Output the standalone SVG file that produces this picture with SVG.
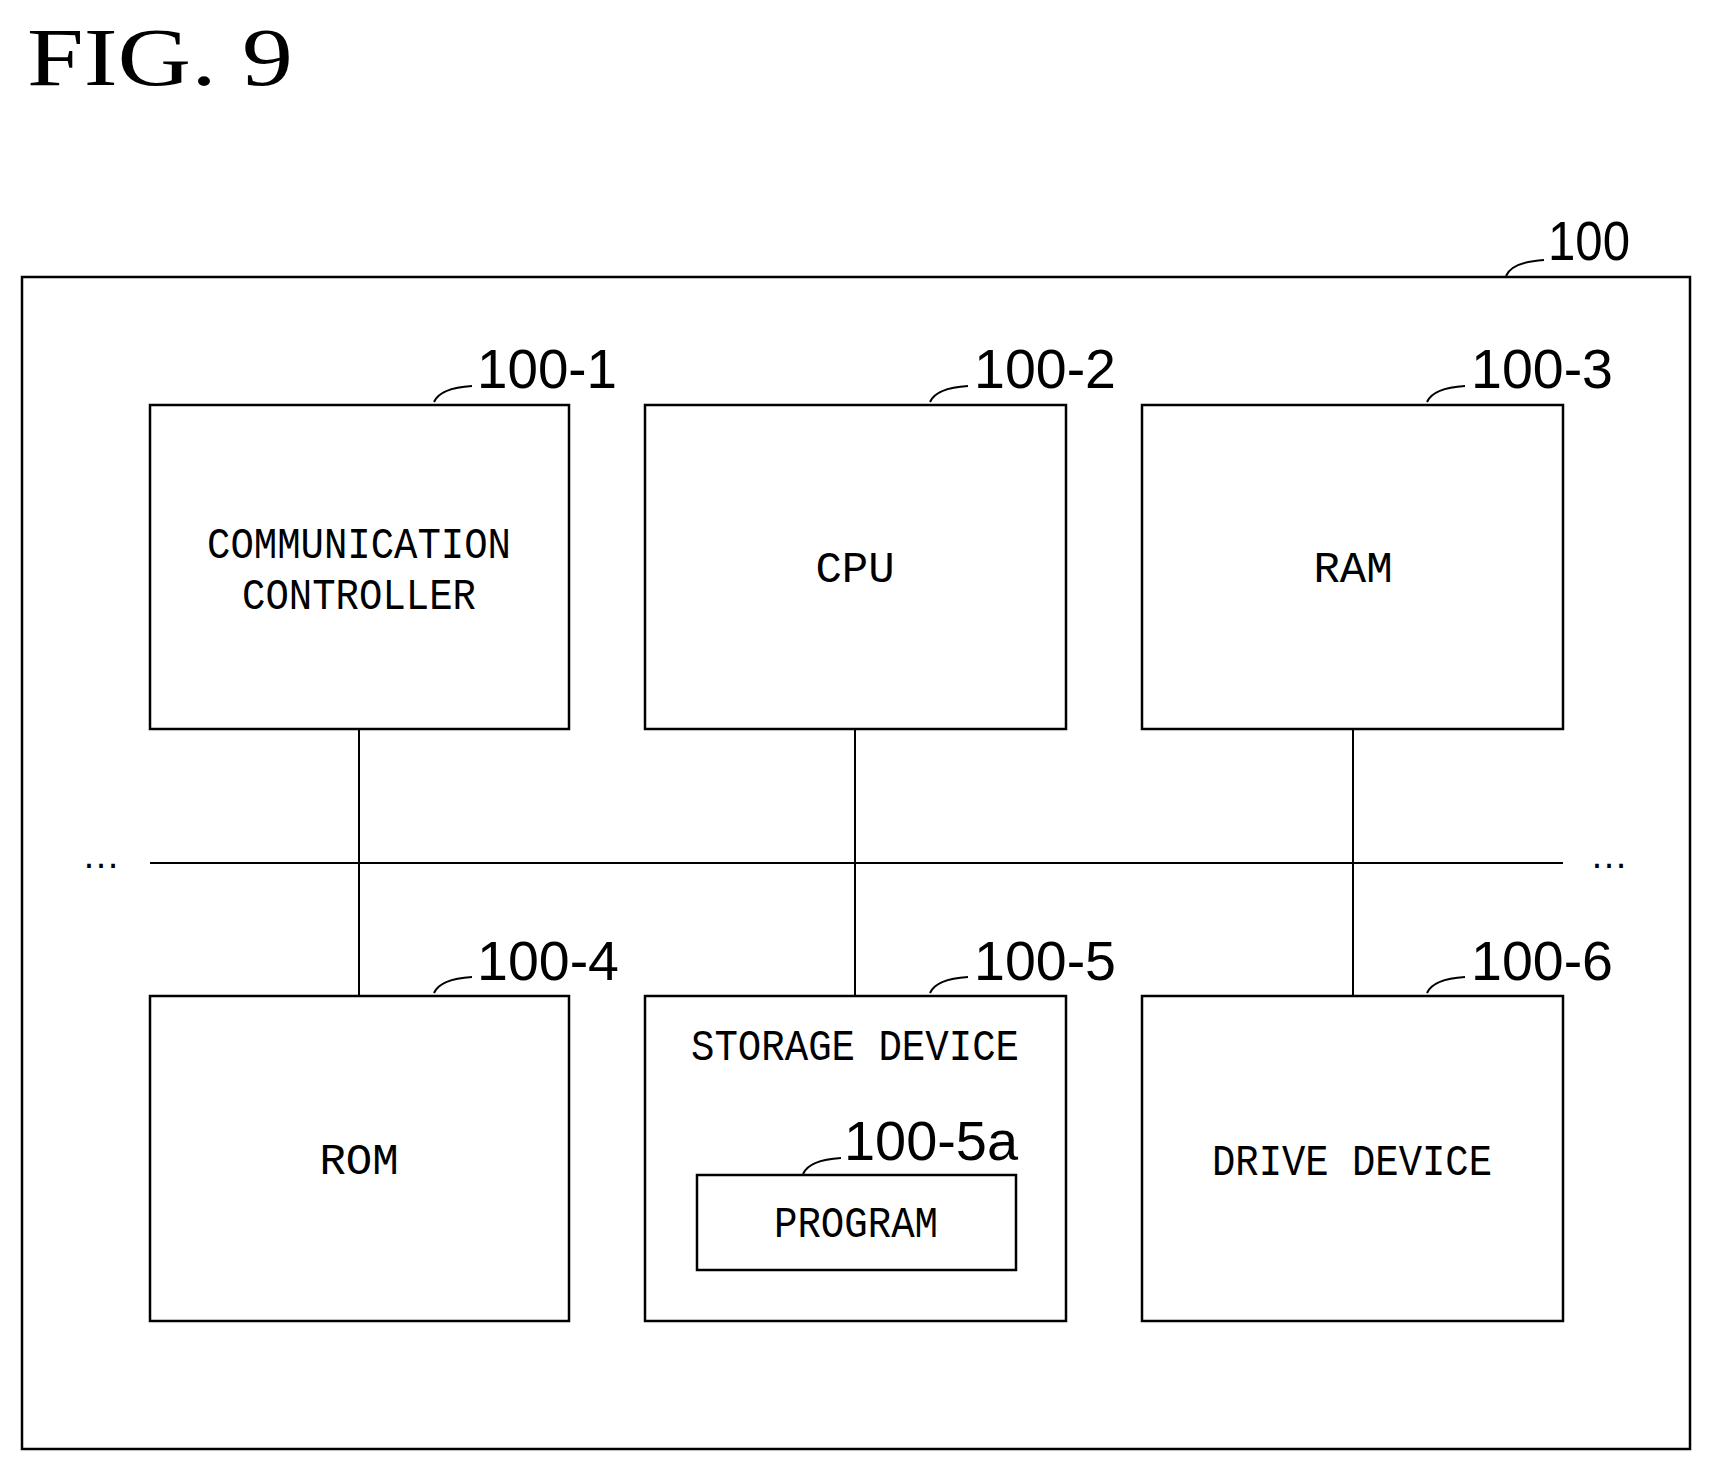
<svg xmlns="http://www.w3.org/2000/svg" width="1712" height="1472" viewBox="0 0 1712 1472">
<style>
rect{fill:none;stroke:#000;stroke-width:2.5}
.c line,.c path{stroke:#000;stroke-width:2;fill:none}
.t{font-family:"Liberation Mono",monospace;font-size:44px;text-anchor:middle}
.n{font-family:"Liberation Sans",sans-serif;font-size:56px}
.lead{stroke:#000;stroke-width:2;fill:none}
.d{font-family:"Liberation Sans",sans-serif;font-size:40px}
</style>
<rect width="1712" height="1472" fill="#fff" stroke="none" style="fill:#fff;stroke:none"/>
<text x="27" y="85" font-family="Liberation Serif,serif" font-size="82" textLength="266" lengthAdjust="spacingAndGlyphs">FIG. 9</text>
<g id="n100"><rect x="22" y="277" width="1668" height="1172"/><path class="lead" d="M1506 276 q6 -14 38 -16"/><text class="n" x="1548" y="260" textLength="82" lengthAdjust="spacingAndGlyphs">100</text></g>
<g class="c" id="connectors">
<line x1="150" y1="863" x2="1563" y2="863"/>
<line x1="359" y1="729" x2="359" y2="996"/>
<line x1="855" y1="729" x2="855" y2="996"/>
<line x1="1353" y1="729" x2="1353" y2="996"/>
<text class="d" x="82" y="868" textLength="38" lengthAdjust="spacingAndGlyphs">…</text>
<text class="d" x="1590" y="868" textLength="38" lengthAdjust="spacingAndGlyphs">…</text>
</g>
<g id="n1"><rect x="150" y="405" width="419" height="324"/><path class="lead" d="M434 402 q6 -14 38 -16"/><text class="n" x="477" y="388" textLength="140" lengthAdjust="spacingAndGlyphs">100-1</text><text class="t" x="359" y="558" textLength="304" lengthAdjust="spacingAndGlyphs">COMMUNICATION</text><text class="t" x="359" y="609" textLength="234" lengthAdjust="spacingAndGlyphs">CONTROLLER</text></g>
<g id="n2"><rect x="645" y="405" width="421" height="324"/><path class="lead" d="M930 402 q6 -14 38 -16"/><text class="n" x="974" y="388" textLength="142" lengthAdjust="spacingAndGlyphs">100-2</text><text class="t" x="855" y="582">CPU</text></g>
<g id="n3"><rect x="1142" y="405" width="421" height="324"/><path class="lead" d="M1427 402 q6 -14 38 -16"/><text class="n" x="1471" y="388" textLength="142" lengthAdjust="spacingAndGlyphs">100-3</text><text class="t" x="1353" y="582">RAM</text></g>
<g id="n4"><rect x="150" y="996" width="419" height="325"/><path class="lead" d="M434 993 q6 -14 38 -16"/><text class="n" x="477" y="980" textLength="142" lengthAdjust="spacingAndGlyphs">100-4</text><text class="t" x="359" y="1174">ROM</text></g>
<g id="n5"><rect x="645" y="996" width="421" height="325"/><path class="lead" d="M930 993 q6 -14 38 -16"/><text class="n" x="974" y="980" textLength="142" lengthAdjust="spacingAndGlyphs">100-5</text><text class="t" x="855" y="1060" textLength="328" lengthAdjust="spacingAndGlyphs">STORAGE DEVICE</text></g>
<g id="n5a"><rect x="697" y="1175" width="319" height="95"/><path class="lead" d="M803 1174 q6 -14 38 -16"/><text class="n" x="844" y="1160" textLength="174" lengthAdjust="spacingAndGlyphs">100-5a</text><text class="t" x="856" y="1237" textLength="164" lengthAdjust="spacingAndGlyphs">PROGRAM</text></g>
<g id="n6"><rect x="1142" y="996" width="421" height="325"/><path class="lead" d="M1427 993 q6 -14 38 -16"/><text class="n" x="1471" y="980" textLength="142" lengthAdjust="spacingAndGlyphs">100-6</text><text class="t" x="1352" y="1175" textLength="280" lengthAdjust="spacingAndGlyphs">DRIVE DEVICE</text></g>
</svg>
